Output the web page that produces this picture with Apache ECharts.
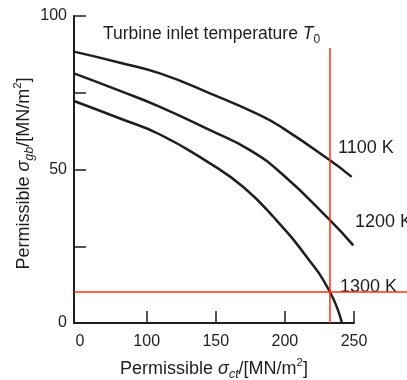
<!DOCTYPE html>
<html><head><meta charset="utf-8">
<script src="https://cdn.jsdelivr.net/npm/echarts@6/dist/echarts.min.js"></script>
<style>html,body{margin:0;padding:0;background:#fff}#c{width:407px;height:380px}</style>
</head><body><div id="c"></div>
<script>
// Data (x in displayed axis units; the x axis is broken at its left end, shown as "0")
const seriesNames = ['1100 K', '1200 K', '1300 K'];
const curve1100 = [[47.4, 88.4], [80.7, 84.8], [109.6, 81.3], [145.8, 74.8], [181.9, 67.7], [198.8, 63.4], [232.6, 53.0], [248.3, 47.6]];
const curve1200 = [[47.4, 81.3], [80.7, 75.6], [109.6, 70.4], [145.8, 62.8], [174.7, 56.3], [198.8, 48.2], [232.6, 33.5], [249.5, 25.3]];
const curve1300 = [[47.4, 72.3], [80.7, 66.6], [109.6, 61.4], [145.8, 52.0], [169.9, 44.3], [191.6, 34.6], [215.8, 21.5], [232.6, 10.1], [241.1, 0.3]];
const xMin = 47.4, xMax = 250;
const xLabelValues = [47.4, 100, 150, 200, 250];
const xTickLabels = ['0', '100', '150', '200', '250'];
const xTickValues = [100, 150, 200, 250];
const yTickValues = [0, 25, 50, 75, 100];
const yLabelValues = [0, 50, 100];
const limitX = 232.6, limitYTop = 89.6;
const limitY = 10.1, limitXRight = 288.4;

const FONT = 'Liberation Sans, Arial, sans-serif';
const INK = '#1e1e1e';
const RED = '#ff2f0f';

const chart = echarts.init(document.getElementById('c'), null, {renderer: 'canvas'});

const nameRich = {
  s: {fontFamily: FONT, fontSize: 18, color: INK, fontStyle: 'italic', lineHeight: 24},
  sub: {fontFamily: FONT, fontSize: 12.5, color: INK, fontStyle: 'italic', verticalAlign: 'bottom', lineHeight: 12},
  sup: {fontFamily: FONT, fontSize: 11.5, color: INK, verticalAlign: 'top', lineHeight: 11}
};

chart.setOption({
  animation: false,
  backgroundColor: '#fff',
  title: {
    text: 'Turbine inlet temperature {s|T}{sub|0}',
    left: 103, top: 22, padding: 0,
    textStyle: {fontFamily: FONT, fontSize: 17.5, fontWeight: 'normal', color: INK, lineHeight: 24, rich: {
      s: {fontFamily: FONT, fontSize: 17.5, color: INK, fontStyle: 'italic', lineHeight: 24},
      sub: {fontFamily: FONT, fontSize: 12, color: INK, verticalAlign: 'bottom', lineHeight: 12}
    }}
  },
  grid: [
    {left: 74, right: 53, top: 16, bottom: 57, containLabel: false, outerBoundsMode: 'none'},
    {left: 74, right: 0, top: 16, bottom: 57, containLabel: false, outerBoundsMode: 'none'}
  ],
  xAxis: [{
    type: 'value', min: xMin, max: xMax, gridIndex: 0,
    name: 'Permissible {s|σ}{sub|ct}/[MN/m{sup|2}]',
    nameLocation: 'middle', nameGap: 34, nameMoveOverlap: false,
    nameTextStyle: {fontFamily: FONT, fontSize: 18, color: INK, lineHeight: 24, rich: nameRich},
    axisLine: {show: true, lineStyle: {color: INK, width: 2}},
    axisTick: {show: true, inside: true, length: 12, customValues: xTickValues, lineStyle: {color: INK, width: 1.5}},
    axisLabel: {
      customValues: xLabelValues, margin: 11, fontFamily: FONT, fontSize: 16, color: INK,
      formatter: function (v) {
        const i = xLabelValues.indexOf(v);
        const t = i >= 0 ? xTickLabels[i] : '';
        return i === 0 ? '{z|' + t + '}' : t;
      },
      rich: {z: {fontFamily: FONT, fontSize: 16, color: INK, padding: [0, 0, 0, 12]}}
    },
    splitLine: {show: false}
  }, {
    type: 'value', min: xMin, max: limitXRight, gridIndex: 1, show: false
  }],
  yAxis: [{
    type: 'value', min: 0, max: 100, interval: 25, gridIndex: 0,
    name: 'Permissible {s|σ}{sub|gb}/[MN/m{sup|2}]',
    nameLocation: 'middle', nameGap: 38, nameMoveOverlap: false,
    nameTextStyle: {fontFamily: FONT, fontSize: 18, color: INK, lineHeight: 24, padding: [0, 8, 0, 0], rich: nameRich},
    axisLine: {show: true, lineStyle: {color: INK, width: 2}},
    axisTick: {show: true, inside: true, length: 12, customValues: yTickValues, lineStyle: {color: INK, width: 1.5}},
    axisLabel: {
      customValues: yLabelValues, margin: 7, fontFamily: FONT, fontSize: 16, color: INK
    },
    splitLine: {show: false}
  }, {
    type: 'value', min: 0, max: 100, gridIndex: 1, show: false
  }],
  series: [
    {name: seriesNames[0], type: 'line', data: curve1100, smooth: 0.5, symbol: 'none', lineStyle: {color: INK, width: 2.5}},
    {name: seriesNames[1], type: 'line', data: curve1200, smooth: 0.5, symbol: 'none', lineStyle: {color: INK, width: 2.5}},
    {name: seriesNames[2], type: 'line', data: curve1300, smooth: 0.5, symbol: 'none', lineStyle: {color: INK, width: 2.5}},
    {type: 'line', data: [[limitX, 0], [limitX, limitYTop]], symbol: 'none', clip: false, lineStyle: {color: RED, width: 1.5}, z: 5},
    {type: 'line', xAxisIndex: 1, yAxisIndex: 1, data: [[xMin, limitY], [limitXRight, limitY]], symbol: 'none', clip: false, lineStyle: {color: RED, width: 1.5}, z: 5}
  ],
  graphic: [
    {type: 'text', left: 338, top: 139, style: {text: seriesNames[0], font: '18px ' + FONT, fill: INK}},
    {type: 'text', left: 355, top: 213, style: {text: seriesNames[1], font: '18px ' + FONT, fill: INK}},
    {type: 'text', left: 340, top: 278, style: {text: seriesNames[2], font: '18px ' + FONT, fill: INK}}
  ]
});
</script></body></html>
